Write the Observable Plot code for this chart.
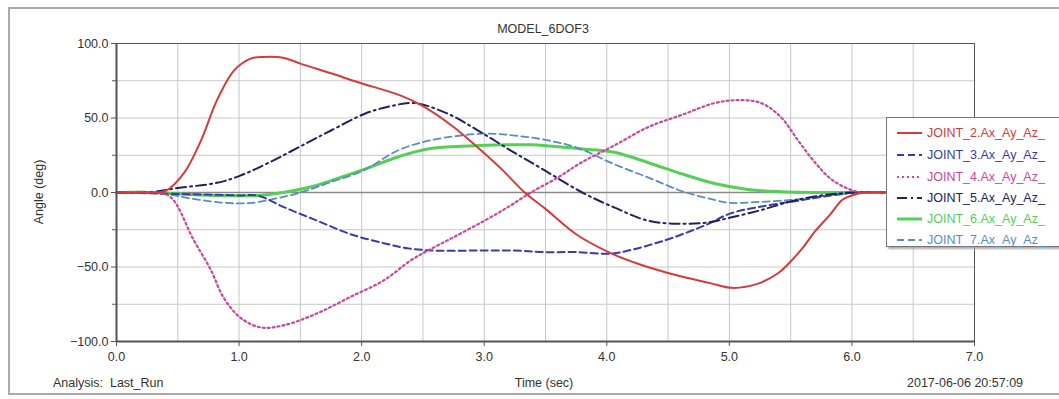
<!DOCTYPE html>
<html>
<head>
<meta charset="utf-8">
<script src="https://cdn.jsdelivr.net/npm/d3@7"></script>
<script src="https://cdn.jsdelivr.net/npm/@observablehq/plot@0.6"></script>
<style>
  html, body { margin: 0; padding: 0; background: #fff; }
  #wrap { position: relative; width: 1059px; height: 399px; overflow: hidden; background: #fff;
          font-family: "Liberation Sans", Arial, sans-serif; color: #333; }
  #outer { position: absolute; left: 8px; top: 7px; width: 1100px; height: 388px; border: 2px solid #aaa; box-sizing: border-box; }
  #chart { position: absolute; left: 0; top: 0; }
  .txt { position: absolute; font-size: 12.5px; white-space: nowrap; line-height: 14px; }
  #legend { position: absolute; left: 886px; top: 117px; width: 220px; height: 130px; background: #fff;
            border: 1px solid #777; box-shadow: 2px 2px 2px #aaa; box-sizing: border-box; }
  .lrow { position: absolute; left: 8px; height: 16px; display: flex; align-items: center; font-size: 12.5px; white-space: nowrap; }
  .lrow svg { margin-right: 4px; }
</style>
</head>
<body>
<div id="wrap">
  <div id="outer"></div>
  <div id="chart"></div>
  <div class="txt" style="left:543px; top:22px; transform:translateX(-50%);">MODEL_6DOF3</div>
  <div class="txt" style="left:39px; top:192px; transform:translate(-50%,-50%) rotate(-90deg);">Angle (deg)</div>
  <div class="txt" style="left:53px; top:376px;">Analysis:&nbsp; Last_Run</div>
  <div class="txt" style="left:544px; top:376px; transform:translateX(-50%);">Time (sec)</div>
  <div class="txt" style="left:907px; top:376px;">2017-06-06 20:57:09</div>
  <div id="legend"></div>
</div>
<script>
// ---- data ----
const seriesNames = [
  "JOINT_2.Ax_Ay_Az_",
  "JOINT_3.Ax_Ay_Az_",
  "JOINT_4.Ax_Ay_Az_",
  "JOINT_5.Ax_Ay_Az_",
  "JOINT_6.Ax_Ay_Az_",
  "JOINT_7.Ax_Ay_Az_"
];

const j2T = [0,0.3,0.4,0.55,0.69,0.82,0.96,1.1,1.2,1.36,1.5,1.75,1.97,2.32,2.5,2.75,2.95,3.15,3.33,3.5,3.75,4.04,4.26,4.5,4.85,5.02,5.24,5.4,5.48,5.6,5.7,5.82,5.92,6.0,6.1,6.3];
const j2V = [0,0,1,13,35,62,82,90,91,90.5,86.5,80,74,65,58,44,30,15,0,-11,-28,-41,-48,-54,-61,-64,-61,-54,-48,-37,-26,-15,-5,-2,0,0];

const j3T = [0,0.5,0.8,1.0,1.15,1.37,1.64,1.91,2.18,2.38,2.6,2.9,3.25,3.5,3.75,4.04,4.2,4.36,4.55,4.83,5.01,5.29,5.56,5.83,6.05,6.3];
const j3V = [0,-1,-1.5,-2,-2,-10,-19,-28,-34,-37.5,-39,-39,-39,-40,-40,-41,-38.5,-35,-30,-21,-14,-9,-5.5,-2,0,0];

const j4T = [0,0.3,0.44,0.63,0.77,0.87,1.01,1.18,1.37,1.64,1.91,2.18,2.4,2.54,2.75,3.0,3.2,3.38,3.6,3.79,4.06,4.34,4.61,4.88,5.07,5.26,5.42,5.56,5.7,5.83,5.97,6.08,6.3];
const j4V = [0,0,-3,-32,-52,-70,-84,-90.6,-89,-81,-70,-59,-45.6,-39,-30,-19,-9.5,0,10,20,31.5,44,52,60,62,60,50.6,35,20,9,2.5,0,0];

const j5T = [0,0.3,0.5,0.82,1.0,1.23,1.64,1.75,2.03,2.24,2.43,2.7,2.95,3.22,3.49,3.8,4.06,4.34,4.61,4.83,5.0,5.25,5.5,5.75,6.0,6.3];
const j5V = [0,0.5,3,6.5,11,19.5,37,41.6,53,58,60,53,41.6,28,15,0,-10,-19,-21,-20,-17,-12,-6,-2,0,0];

const j6T = [0,0.3,0.5,0.8,1.15,1.36,1.6,1.75,2.02,2.3,2.56,2.95,3.38,3.76,4.06,4.34,4.61,4.88,5.15,5.42,5.7,6.3];
const j6V = [0,0,-1,-2,-2,0,4,8,15.5,24,29.5,31.5,32,29.5,27,20,12.6,6,2,0.5,0,0];

const j7T = [0,0.4,0.6,0.9,1.1,1.3,1.5,1.75,2.02,2.29,2.56,3.0,3.27,3.52,3.76,4.06,4.34,4.61,4.88,5.0,5.2,5.5,5.8,6.1,6.3];
const j7V = [0,-1,-4,-7,-7,-4,0,7,15,28,35,39.5,38,35,30,19,10,1,-5,-7,-6.5,-5,-2,0,0];

const xTickValues = [0,1,2,3,4,5,6,7];
const yTickValues = [-100,-50,0,50,100];

// ---- styles per series ----
const styles = [
  {color: "#d63a3a", width: 2,   dash: null},
  {color: "#3a3ab0", width: 2,   dash: "7,4"},
  {color: "#c8489e", width: 2.2, dash: "2,3"},
  {color: "#22225e", width: 2,   dash: "10,4,2,4"},
  {color: "#55d055", width: 3,   dash: null},
  {color: "#5a8cc4", width: 1.8, dash: "7,4"}
];
const seriesT = [j2T, j3T, j4T, j5T, j6T, j7T];
const seriesV = [j2V, j3V, j4V, j5V, j6V, j7V];

const drawOrder = [4, 5, 1, 3, 2, 0];
const lineMarks = drawOrder.map(i => {
  const data = seriesT[i].map((t, k) => ({t, v: seriesV[i][k]}));
  const s = styles[i];
  return Plot.line(data, {x: "t", y: "v", stroke: s.color, strokeWidth: s.width,
    strokeDasharray: s.dash || undefined, curve: "catmull-rom"});
});

const chart = Plot.plot({
  width: 1059,
  height: 399,
  marginLeft: 116,
  marginRight: 85,
  marginTop: 43,
  marginBottom: 58,
  style: {fontFamily: "Liberation Sans, Arial, sans-serif", fontSize: "12.5px", color: "#333", background: "transparent"},
  x: {domain: [0, 7]},
  y: {domain: [-100, 100]},
  marks: [
    Plot.gridX(d3.range(0, 7.01, 0.5), {stroke: "#c8c8c8", strokeOpacity: 1}),
    Plot.gridY(d3.range(-100, 100.01, 25), {stroke: "#c8c8c8", strokeOpacity: 1}),
    Plot.ruleY([0], {stroke: "#8a8a8a", strokeWidth: 1.5}),
    ...lineMarks,
    Plot.frame({stroke: "#555"}),
    Plot.ruleY([-100], {stroke: "#555", strokeWidth: 2}),
    Plot.ruleX([0], {stroke: "#555", strokeWidth: 2}),
    Plot.axisX({ticks: xTickValues, tickFormat: d3.format(".1f"), tickSize: 5, tickPadding: 6, label: null, stroke: "#555"}),
    Plot.axisY({ticks: yTickValues, tickFormat: d3.format(".1f"), tickSize: 5, tickPadding: 3, label: null, stroke: "#555"}),
    Plot.axisY({ticks: [-75, -25, 25, 75], tickFormat: () => "", tickSize: 4, label: null, stroke: "#555"})
  ]
});
document.getElementById("chart").appendChild(chart);

// ---- legend ----
const legend = document.getElementById("legend");
const rowTops = [8, 30, 52, 73, 94, 115];
seriesNames.forEach((name, i) => {
  const s = styles[i];
  const row = document.createElement("div");
  row.className = "lrow";
  row.style.top = (rowTops[i] - 1) + "px";
  row.style.color = s.color;
  row.innerHTML = `<svg width="28" height="10"><line x1="2" y1="5" x2="27" y2="5" stroke="${s.color}" stroke-width="${s.width}" ${s.dash ? `stroke-dasharray="${s.dash}"` : ""}/></svg><span>${name}</span>`;
  legend.appendChild(row);
});
</script>
</body>
</html>
